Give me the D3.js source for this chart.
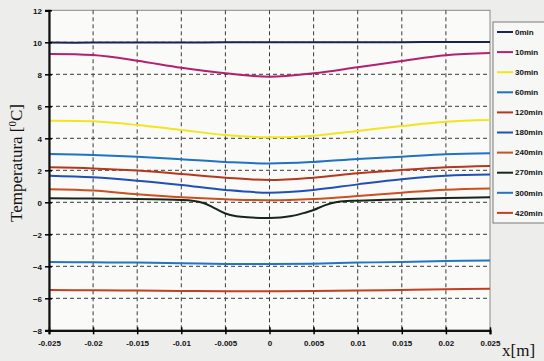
<!DOCTYPE html>
<html>
<head>
<meta charset="utf-8">
<script src="https://cdn.jsdelivr.net/npm/d3@7"></script>
<style>
  html, body { margin: 0; padding: 0; background: #ededeb; }
  svg { display: block; }
  .tick text { font-family: "Liberation Sans", Arial, sans-serif; font-weight: bold; font-size: 8px; fill: #111; }
</style>
</head>
<body>
<svg id="chart" width="544" height="361"></svg>
<script>
// Temperature profiles across the sample at successive times
const xs = [-0.025, -0.02, -0.015, -0.01, -0.005, 0, 0.005, 0.01, 0.015, 0.02, 0.025];
const xTicks = [-0.025, -0.02, -0.015, -0.01, -0.005, 0, 0.005, 0.01, 0.015, 0.02, 0.025];
const yTicks = [-8, -6, -4, -2, 0, 2, 4, 6, 8, 10, 12];

const t0   = [9.98, 9.98, 9.99, 9.99, 10.0, 10.0, 10.0, 10.01, 10.01, 10.02, 10.02];
const t10  = [9.27, 9.2, 8.85, 8.41, 8.06, 7.85, 8.06, 8.44, 8.83, 9.19, 9.33];
const t30  = [5.1, 5.06, 4.83, 4.52, 4.2, 4.06, 4.16, 4.46, 4.77, 5.04, 5.14];
const t60  = [3.02, 2.96, 2.85, 2.69, 2.52, 2.42, 2.52, 2.71, 2.85, 3.0, 3.06];
const t120 = [2.19, 2.12, 1.98, 1.77, 1.54, 1.39, 1.54, 1.81, 2.02, 2.19, 2.27];
const t180 = [1.66, 1.56, 1.35, 1.08, 0.77, 0.6, 0.77, 1.12, 1.44, 1.66, 1.73];
const t240 = [0.81, 0.73, 0.5, 0.31, 0.19, 0.13, 0.21, 0.39, 0.6, 0.79, 0.87];
const t300 = [-3.73, -3.75, -3.77, -3.81, -3.86, -3.86, -3.84, -3.77, -3.73, -3.67, -3.63];
const t420 = [-5.48, -5.5, -5.52, -5.54, -5.56, -5.56, -5.55, -5.52, -5.48, -5.44, -5.4];

// the 270 min profile has a sharp dip in the middle, sampled more densely
const x270 = [-0.025, -0.02, -0.015, -0.01, -0.00875, -0.0075, -0.00625, -0.005, -0.00375, -0.0025, 0,
              0.00125, 0.0025, 0.00375, 0.005, 0.00625, 0.0075, 0.00875, 0.01, 0.015, 0.02, 0.025];
const t270 = [0.25, 0.23, 0.21, 0.15, 0.1, -0.04, -0.36, -0.7, -0.87, -0.94, -0.98,
              -0.95, -0.86, -0.69, -0.48, -0.19, 0.0, 0.08, 0.1, 0.19, 0.27, 0.31];

const seriesNames = ["0min", "10min", "30min", "60min", "120min", "180min", "240min", "270min", "300min", "420min"];
const seriesColors = ["#1b2450", "#b3206f", "#f2e51e", "#1f72c4", "#b5381d", "#2150b4", "#c9501f", "#16261a", "#2175c2", "#c23f1f"];

const series = [
  { x: xs, y: t0 }, { x: xs, y: t10 }, { x: xs, y: t30 }, { x: xs, y: t60 },
  { x: xs, y: t120 }, { x: xs, y: t180 }, { x: xs, y: t240 }, { x: x270, y: t270 },
  { x: xs, y: t300 }, { x: xs, y: t420 }
].map((s, i) => ({ name: seriesNames[i], color: seriesColors[i], pts: s.x.map((v, j) => [v, s.y[j]]) }));

const svg = d3.select("#chart");
const m = { left: 49, top: 10.3, right: 490, bottom: 330.3 };

const x = d3.scaleLinear().domain([-0.025, 0.025]).range([m.left, m.right]);
const y = d3.scaleLinear().domain([-8, 12]).range([m.bottom, m.top]);

// plot background and outer frame
svg.append("rect").attr("x", m.left).attr("y", m.top)
  .attr("width", m.right - m.left).attr("height", m.bottom - m.top)
  .attr("fill", "#fafaf9").attr("stroke", "#8a8a8a").attr("stroke-width", 1);

// dashed grid
const grid = svg.append("g").attr("stroke", "#3a3a3a").attr("stroke-width", 1).attr("stroke-dasharray", "4,3");
grid.selectAll("line.v").data(xTicks.slice(1, -1)).join("line")
  .attr("x1", d => x(d)).attr("x2", d => x(d)).attr("y1", m.top).attr("y2", m.bottom);
grid.selectAll("line.h").data(yTicks.slice(1, -1)).join("line")
  .attr("x1", m.left).attr("x2", m.right).attr("y1", d => y(d)).attr("y2", d => y(d));

// curves
const line = d3.line().x(d => x(d[0])).y(d => y(d[1])).curve(d3.curveCatmullRom.alpha(0.5));
svg.append("g").selectAll("path").data(series).join("path")
  .attr("d", d => line(d.pts)).attr("fill", "none")
  .attr("stroke", d => d.color).attr("stroke-width", 2);

// axes
const xAxis = svg.append("g").attr("transform", `translate(0,${m.bottom})`)
  .call(d3.axisBottom(x).tickValues(xTicks).tickSize(4).tickPadding(6)
    .tickFormat(d => d === 0 ? "0" : String(+d.toFixed(3))));
xAxis.select(".domain").attr("stroke-width", 2.2).attr("stroke", "#111");
xAxis.selectAll(".tick line").attr("stroke-width", 1.5).attr("y1", -3);

const yAxis = svg.append("g").attr("transform", `translate(${m.left},0)`)
  .call(d3.axisLeft(y).tickValues(yTicks).tickSize(4).tickPadding(3));
yAxis.select(".domain").attr("stroke-width", 2.2).attr("stroke", "#111");
yAxis.selectAll(".tick line").attr("stroke-width", 1.5).attr("x1", 3);
yAxis.selectAll(".tick text").attr("dy", "0.34em");

// axis titles
const yt = svg.append("text")
  .attr("transform", "translate(22,163) rotate(-90)")
  .attr("text-anchor", "middle")
  .attr("font-family", "'Liberation Serif', 'Times New Roman', serif")
  .attr("font-size", 17).attr("fill", "#111");
yt.append("tspan").text("Temperatura [");
yt.append("tspan").attr("font-size", 11).attr("dy", -6).text("0");
yt.append("tspan").attr("dy", 6).text("C]");

svg.append("text").attr("x", 502).attr("y", 356)
  .attr("font-family", "'Liberation Serif', 'Times New Roman', serif")
  .attr("font-size", 17).attr("fill", "#111").text("x[m]");

// legend
const lg = svg.append("g");
lg.append("rect").attr("x", 493).attr("y", 22).attr("width", 60).attr("height", 201)
  .attr("fill", "#f7f7f6").attr("stroke", "#7a7a7a").attr("stroke-width", 1);
const item = lg.selectAll("g.item").data(series).join("g")
  .attr("transform", (d, i) => `translate(0,${32 + i * 20.1})`);
item.append("line").attr("x1", 497).attr("x2", 513)
  .attr("stroke", d => d.color).attr("stroke-width", 2);
item.append("text").attr("x", 515).attr("dy", "0.34em")
  .attr("font-family", "'Liberation Sans', Arial, sans-serif")
  .attr("font-weight", "bold").attr("font-size", 8).attr("fill", "#111")
  .text(d => d.name);
</script>
</body>
</html>
